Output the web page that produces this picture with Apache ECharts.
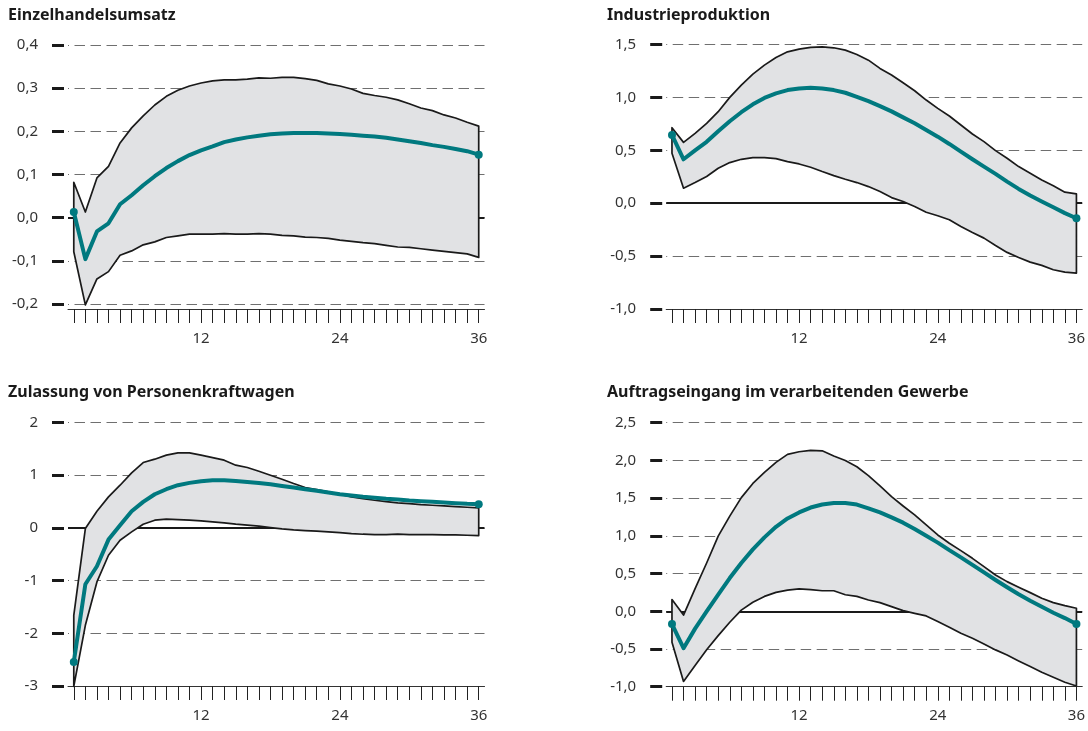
<!DOCTYPE html>
<html>
<head>
<meta charset="utf-8">
<script src="https://cdn.jsdelivr.net/npm/echarts@6/dist/echarts.min.js"></script>
<style>
  html, body { margin: 0; padding: 0; background: #fff; }
  #chatMain { width: 1088px; height: 731px; }
</style>
</head>
<body>
<div id="chatMain"></div>
<script>
// Monate nach dem Schock (x-Achse)
const months = ['1','2','3','4','5','6','7','8','9','10','11','12','13','14','15','16','17','18',
  '19','20','21','22','23','24','25','26','27','28','29','30','31','32','33','34','35','36'];
const monthTicks = ['12', '24', '36'];

const titles = ['Einzelhandelsumsatz', 'Industrieproduktion',
  'Zulassung von Personenkraftwagen', 'Auftragseingang im verarbeitenden Gewerbe'];

// Einzelhandelsumsatz
const retailMean = [0.013,-0.096,-0.032,-0.013,0.031,0.052,0.075,0.096,0.115,0.131,0.145,0.156,0.165,0.175,0.181,0.186,0.19,0.193,
  0.195,0.196,0.196,0.196,0.195,0.194,0.192,0.19,0.188,0.185,0.181,0.177,0.173,0.168,0.164,0.159,0.154,0.146];
const retailUpper = [0.082,0.013,0.092,0.119,0.173,0.208,0.236,0.261,0.281,0.295,0.305,0.312,0.317,0.319,0.319,0.321,0.324,0.323,
  0.325,0.325,0.322,0.318,0.31,0.305,0.298,0.288,0.283,0.279,0.273,0.264,0.254,0.248,0.238,0.231,0.221,0.212];
const retailLower = [-0.079,-0.202,-0.142,-0.125,-0.087,-0.077,-0.063,-0.056,-0.046,-0.042,-0.038,-0.038,-0.038,-0.037,-0.038,-0.038,-0.037,-0.038,
  -0.041,-0.042,-0.045,-0.046,-0.048,-0.052,-0.055,-0.058,-0.06,-0.064,-0.068,-0.069,-0.072,-0.075,-0.078,-0.081,-0.084,-0.092];

// Industrieproduktion
const industryMean = [0.645,0.415,0.5,0.58,0.68,0.775,0.86,0.935,0.995,1.038,1.069,1.085,1.091,1.085,1.069,1.044,1.006,0.965,
  0.918,0.868,0.811,0.755,0.692,0.629,0.56,0.487,0.415,0.346,0.277,0.204,0.135,0.072,0.016,-0.038,-0.094,-0.142];
const industryUpper = [0.714,0.575,0.66,0.755,0.865,1.0,1.116,1.22,1.305,1.377,1.431,1.456,1.472,1.478,1.469,1.447,1.406,1.352,
  1.274,1.211,1.138,1.063,0.975,0.896,0.824,0.739,0.654,0.582,0.497,0.425,0.346,0.283,0.22,0.164,0.104,0.088];
const industryLower = [0.472,0.142,0.195,0.252,0.33,0.384,0.415,0.431,0.431,0.421,0.393,0.371,0.34,0.299,0.261,0.226,0.195,0.157,
  0.11,0.053,0.016,-0.031,-0.085,-0.119,-0.157,-0.22,-0.277,-0.33,-0.4,-0.465,-0.513,-0.557,-0.588,-0.629,-0.651,-0.66];

// Zulassung von Personenkraftwagen
const carsMean = [-2.544,-1.07,-0.728,-0.222,0.051,0.316,0.494,0.639,0.734,0.81,0.854,0.886,0.905,0.905,0.892,0.873,0.854,0.829,
  0.797,0.766,0.734,0.703,0.671,0.639,0.614,0.589,0.57,0.551,0.538,0.519,0.506,0.494,0.481,0.468,0.456,0.449];
const carsUpper = [-1.658,-0.013,0.316,0.589,0.81,1.044,1.24,1.304,1.38,1.424,1.424,1.38,1.335,1.285,1.19,1.146,1.076,1.0,
  0.924,0.842,0.766,0.728,0.684,0.639,0.589,0.557,0.525,0.5,0.475,0.462,0.443,0.43,0.418,0.405,0.392,0.38];
const carsLower = [-3.006,-1.848,-1.025,-0.519,-0.234,-0.076,0.07,0.146,0.165,0.158,0.146,0.133,0.114,0.095,0.07,0.051,0.032,0.006,
  -0.019,-0.038,-0.051,-0.063,-0.076,-0.089,-0.108,-0.12,-0.127,-0.127,-0.12,-0.127,-0.127,-0.127,-0.133,-0.133,-0.139,-0.146];

// Auftragseingang im verarbeitenden Gewerbe
const ordersMean = [-0.17,-0.49,-0.23,0.0,0.22,0.44,0.64,0.82,0.98,1.12,1.23,1.31,1.375,1.415,1.435,1.435,1.415,1.365,
  1.31,1.245,1.175,1.09,1.0,0.91,0.81,0.715,0.615,0.515,0.415,0.318,0.225,0.14,0.06,-0.02,-0.09,-0.17];
const ordersUpper = [0.155,-0.05,0.3,0.64,0.997,1.262,1.507,1.695,1.841,1.974,2.08,2.115,2.133,2.127,2.058,1.998,1.916,1.798,
  1.661,1.519,1.396,1.277,1.144,1.012,0.901,0.804,0.702,0.592,0.481,0.393,0.318,0.247,0.172,0.115,0.075,0.04];
const ordersLower = [-0.41,-0.93,-0.72,-0.51,-0.323,-0.146,0.015,0.12,0.197,0.25,0.281,0.297,0.286,0.272,0.272,0.219,0.197,0.15,
  0.115,0.062,0.009,-0.027,-0.062,-0.137,-0.212,-0.292,-0.358,-0.433,-0.512,-0.579,-0.658,-0.733,-0.808,-0.875,-0.941,-0.99];

// y-Achsen: min, max, Schritt, Nachkommastellen
const yMin = [-0.2, -1.0, -3, -1.0];
const yMax = [0.4, 1.5, 2, 2.5];
const yStep = [0.1, 0.5, 1, 0.5];
const yDecimals = [1, 1, 0, 1];

const panels = [
  { mean: retailMean, upper: retailUpper, lower: retailLower },
  { mean: industryMean, upper: industryUpper, lower: industryLower },
  { mean: carsMean, upper: carsUpper, lower: carsLower },
  { mean: ordersMean, upper: ordersUpper, lower: ordersLower }
];

// Lage der vier Teilgrafiken
const layout = [
  { left: 68, top: 45, height: 259, xOffset: 5, titleLeft: 8, titleTop: 7 },
  { left: 666.2, top: 44.5, height: 264.5, xOffset: 0, titleLeft: 607, titleTop: 7 },
  { left: 68, top: 422.5, height: 263.5, xOffset: 0, titleLeft: 8, titleTop: 384 },
  { left: 666.2, top: 422.7, height: 264, xOffset: 0, titleLeft: 607, titleTop: 384 }
];

const teal = '#00797f';
const ink = '#1a1a1a';
const font = 'Noto Sans';

const myechart = echarts.init(document.getElementById('chatMain'));

const grid = layout.map(l => ({ left: l.left, top: l.top, width: 416.5, height: l.height }));

const title = layout.map((l, k) => ({
  text: titles[k],
  left: l.titleLeft,
  top: l.titleTop,
  padding: 0,
  textStyle: { fontFamily: font, fontSize: 16, fontWeight: 'bold', color: ink }
}));

const xAxis = layout.map((l, k) => ({
  type: 'category',
  gridIndex: k,
  data: months,
  boundaryGap: true,
  position: 'bottom',
  offset: l.xOffset,
  axisLine: { show: true, onZero: false, lineStyle: { color: '#333', width: 1 } },
  axisTick: { show: true, alignWithLabel: true, interval: 0, length: 14, lineStyle: { color: '#222', width: 1 } },
  axisLabel: {
    interval: 0,
    margin: 22,
    fontFamily: font,
    fontSize: 15,
    color: '#333',
    formatter: v => monthTicks.includes(v) ? v : ''
  },
  splitLine: { show: false }
}));

const yAxis = layout.map((l, k) => ({
  type: 'value',
  gridIndex: k,
  min: yMin[k],
  max: yMax[k],
  interval: yStep[k],
  offset: 4,
  axisLine: { show: false },
  axisTick: { show: true, length: 12, lineStyle: { color: ink, width: 3 } },
  axisLabel: {
    margin: 26,
    fontFamily: font,
    fontSize: 15,
    color: '#333',
    formatter: v => v.toFixed(yDecimals[k]).replace('.', ',')
  },
  splitLine: {
    show: true,
    lineStyle: { color: '#6f6f6f', width: 1, type: [10.5, 5.5], dashOffset: 9.5 }
  }
}));

const series = [];
panels.forEach((p, k) => {
  // graues Band zwischen oberer und unterer Grenze
  series.push({
    type: 'custom',
    xAxisIndex: k,
    yAxisIndex: k,
    z: 6,
    silent: true,
    data: [0],
    renderItem: function (params, api) {
      const pts = [];
      p.upper.forEach((v, i) => pts.push(api.coord([i, v])));
      for (let i = p.lower.length - 1; i >= 0; i--) {
        pts.push(api.coord([i, p.lower[i]]));
      }
      return {
        type: 'polygon',
        shape: { points: pts },
        style: { fill: '#e1e2e4', stroke: ink, lineWidth: 1.7, lineJoin: 'round' }
      };
    }
  });
  // Punktschätzung
  series.push({
    type: 'line',
    xAxisIndex: k,
    yAxisIndex: k,
    z: 8,
    data: p.mean,
    symbol: 'circle',
    showAllSymbol: true,
    symbolSize: (v, params) => (params.dataIndex === 0 || params.dataIndex === p.mean.length - 1) ? 8 : 0,
    lineStyle: { color: teal, width: 4, join: 'round', cap: 'round' },
    itemStyle: { color: teal, borderWidth: 0 },
    // Nulllinie (z 5, liegt unter dem Band)
    markLine: {
      silent: true,
      symbol: 'none',
      z: 5,
      label: { show: false },
      lineStyle: { color: ink, width: 2, type: 'solid' },
      data: [{ yAxis: 0 }]
    }
  });
});

const option = {
  animation: false,
  backgroundColor: '#fff',
  textStyle: { fontFamily: font },
  title: title,
  grid: grid,
  xAxis: xAxis,
  yAxis: yAxis,
  series: series
};
myechart.setOption(option);
</script>
</body>
</html>
